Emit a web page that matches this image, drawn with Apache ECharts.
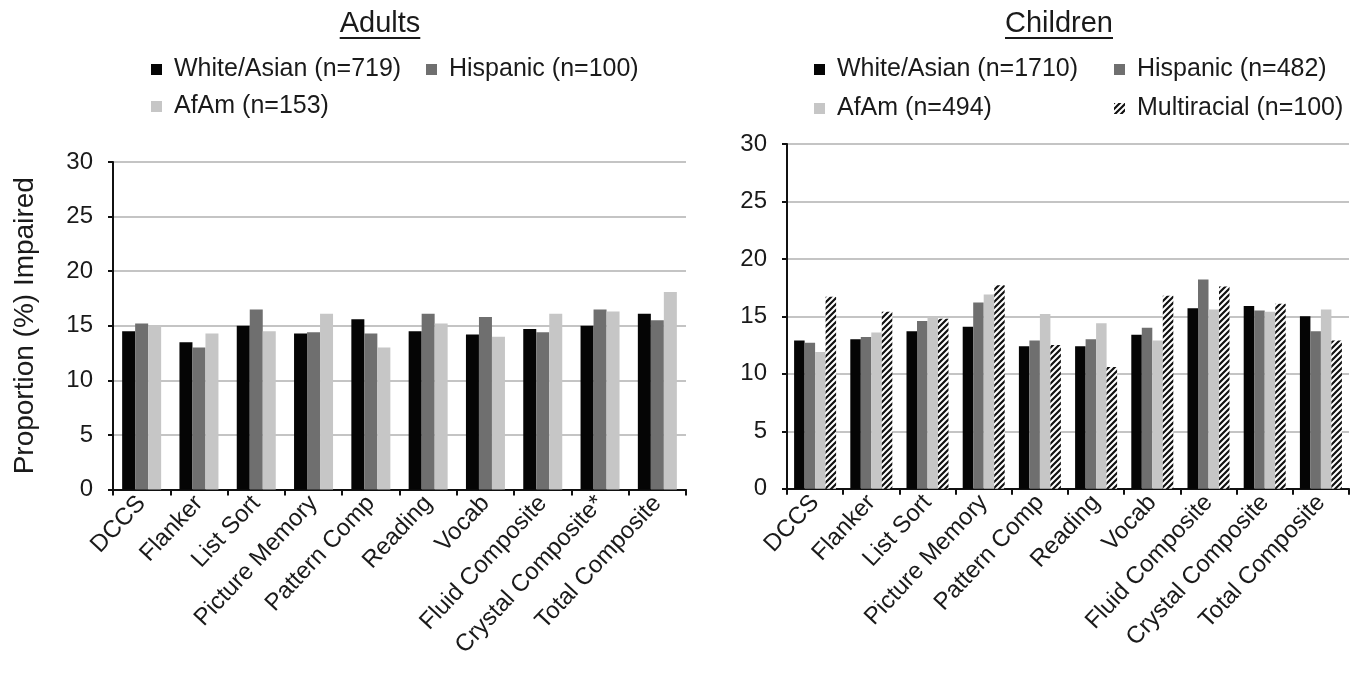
<!DOCTYPE html>
<html>
<head>
<meta charset="utf-8">
<script src="https://cdn.jsdelivr.net/npm/echarts@6/dist/echarts.min.js"></script>
<style>
  html, body { margin: 0; padding: 0; background: #fff; }
  #chart { width: 1360px; height: 677px; }
</style>
</head>
<body>
<div id="chart"></div>
<script>
// Test domains shown on both panels
const adultCategories = ['DCCS', 'Flanker', 'List Sort', 'Picture Memory', 'Pattern Comp',
  'Reading', 'Vocab', 'Fluid Composite', 'Crystal Composite*', 'Total Composite'];
const childCategories = ['DCCS', 'Flanker', 'List Sort', 'Picture Memory', 'Pattern Comp',
  'Reading', 'Vocab', 'Fluid Composite', 'Crystal Composite', 'Total Composite'];

// Proportion (%) impaired — adults
const adultWhiteAsian = [14.5, 13.5, 15.0, 14.3, 15.6, 14.5, 14.2, 14.7, 15.0, 16.1];
const adultHispanic   = [15.2, 13.0, 16.5, 14.4, 14.3, 16.1, 15.8, 14.4, 16.5, 15.5];
const adultAfAm       = [15.0, 14.3, 14.5, 16.1, 13.0, 15.2, 14.0, 16.1, 16.3, 18.1];

// Proportion (%) impaired — children
const childWhiteAsian  = [12.9, 13.0, 13.7, 14.1, 12.4, 12.4, 13.4, 15.7, 15.9, 15.0];
const childHispanic    = [12.7, 13.2, 14.6, 16.2, 12.9, 13.0, 14.0, 18.2, 15.5, 13.7];
const childAfAm        = [11.9, 13.6, 15.0, 16.9, 15.2, 14.4, 12.9, 15.6, 15.4, 15.6];
const childMultiracial = [16.7, 15.4, 14.8, 17.7, 12.5, 10.6, 16.8, 17.6, 16.1, 12.9];

const adultNames = ['White/Asian (n=719)', 'Hispanic (n=100)', 'AfAm (n=153)'];
const childNames = ['White/Asian (n=1710)', 'Hispanic (n=482)', 'AfAm (n=494)', 'Multiracial (n=100)'];

const yTicks = { min: 0, max: 30, interval: 5 };

const FONT = "'Liberation Sans', Arial, sans-serif";
const BLACK = '#050505';
const MID = '#6f6f6f';
const LIGHT = '#c6c6c6';

// diagonal hatch used for the multiracial bars
function hatchCanvas() {
  const s = 6;
  const c = document.createElement('canvas');
  c.width = s; c.height = s;
  const g = c.getContext('2d');
  g.fillStyle = '#ffffff';
  g.fillRect(0, 0, s, s);
  g.strokeStyle = '#111111';
  g.lineWidth = 2.2;
  g.beginPath();
  g.moveTo(-1, s + 1); g.lineTo(s + 1, -1);
  g.moveTo(-s / 2 - 1, s / 2 + 1); g.lineTo(s / 2 + 1, -s / 2 - 1);
  g.moveTo(s / 2 - 1, s * 1.5 + 1); g.lineTo(s * 1.5 + 1, s / 2 - 1);
  g.stroke();
  return c;
}
const HATCH = { image: hatchCanvas(), repeat: 'repeat' };

function textWidth(txt, font) {
  const g = document.createElement('canvas').getContext('2d');
  g.font = font;
  return g.measureText(txt).width;
}

const chart = echarts.init(document.getElementById('chart'), null, { renderer: 'canvas' });

const grids = [
  { left: 113, right: 674, top: 162, bottom: 187.5 },
  { left: 787, right: 11, top: 144, bottom: 188.3 }
];

function xAxisFor(idx, cats) {
  return {
    type: 'category', gridIndex: idx, data: cats,
    axisLine: { lineStyle: { color: '#111', width: 2 } },
    axisTick: { show: true, length: 6, lineStyle: { color: '#111', width: 2 } },
    axisLabel: { interval: 0, rotate: 47, margin: 10, color: '#1a1a1a',
      fontSize: 24, fontFamily: FONT }
  };
}
function yAxisFor(idx, withName) {
  return {
    type: 'value', gridIndex: idx, min: yTicks.min, max: yTicks.max, interval: yTicks.interval,
    name: withName ? 'Proportion (%) Impaired' : '',
    nameLocation: 'middle', nameGap: 74, nameRotate: 90,
    nameTextStyle: { fontSize: 28, fontFamily: FONT, color: '#1a1a1a' },
    axisLine: { show: true, lineStyle: { color: '#111', width: 2 } },
    axisTick: { show: true, length: 5, lineStyle: { color: '#111', width: 2 } },
    axisLabel: { margin: 20, color: '#1a1a1a', fontSize: 24, fontFamily: FONT },
    splitLine: { show: true, lineStyle: { color: '#c4c4c4', width: 2 } }
  };
}

function barSeries(name, data, color, axisIdx, width) {
  return {
    name, type: 'bar', data, xAxisIndex: axisIdx, yAxisIndex: axisIdx,
    barWidth: width, barGap: '0%',
    itemStyle: { color },
    animation: false
  };
}

const legendText = { fontSize: 25, fontFamily: FONT, color: '#1a1a1a', padding: [0, 0, 0, 7] };
function legendItem(name, left, top) {
  return {
    data: [name], left, top, icon: 'rect', itemWidth: 11, itemHeight: 11,
    textStyle: legendText, selectedMode: false, padding: 0
  };
}

// panel headings, underlined
const titleFont = `29px ${FONT}`;
const titles = [
  { text: 'Adults', cx: 380 },
  { text: 'Children', cx: 1059 }
];
const headingGraphics = [];
titles.forEach(t => {
  const w = textWidth(t.text, titleFont);
  headingGraphics.push({
    type: 'text', silent: true, x: t.cx, y: 24,
    style: { text: t.text, font: titleFont, fill: '#1a1a1a', align: 'center', verticalAlign: 'middle' }
  });
  headingGraphics.push({
    type: 'line', silent: true,
    shape: { x1: t.cx - w / 2, y1: 38, x2: t.cx + w / 2, y2: 38 },
    style: { stroke: '#1a1a1a', lineWidth: 2 }
  });
});

const option = {
  backgroundColor: '#ffffff',
  animation: false,
  graphic: headingGraphics,
  legend: [
    legendItem(adultNames[0], 151, 57),
    legendItem(adultNames[1], 426, 57),
    legendItem(adultNames[2], 151, 94),
    legendItem(childNames[0], 814, 57),
    legendItem(childNames[1], 1114, 57),
    legendItem(childNames[2], 814, 96),
    legendItem(childNames[3], 1114, 96)
  ],
  grid: grids,
  xAxis: [xAxisFor(0, adultCategories), xAxisFor(1, childCategories)],
  yAxis: [yAxisFor(0, true), yAxisFor(1, false)],
  series: [
    barSeries(adultNames[0], adultWhiteAsian, BLACK, 0, 13),
    barSeries(adultNames[1], adultHispanic, MID, 0, 13),
    barSeries(adultNames[2], adultAfAm, LIGHT, 0, 13),
    barSeries(childNames[0], childWhiteAsian, BLACK, 1, 10.5),
    barSeries(childNames[1], childHispanic, MID, 1, 10.5),
    barSeries(childNames[2], childAfAm, LIGHT, 1, 10.5),
    barSeries(childNames[3], childMultiracial, HATCH, 1, 10.5)
  ]
};

chart.setOption(option);
</script>
</body>
</html>
